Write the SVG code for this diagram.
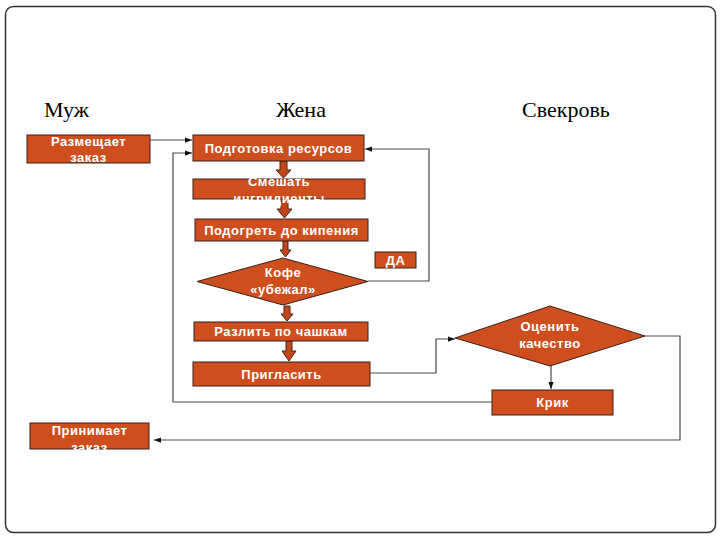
<svg xmlns="http://www.w3.org/2000/svg" width="720" height="540" viewBox="0 0 720 540">
<style>
.box{fill:#CF4E1E;stroke:#3a2018;stroke-width:1}
.fat{fill:#C2461A;stroke:#4a2414;stroke-width:1}
.t{font-family:"Liberation Sans",Arial,sans-serif;font-weight:bold;font-size:13px;fill:#fff;text-anchor:middle;letter-spacing:0.5px}
.h{font-family:"Liberation Serif","Times New Roman",serif;font-size:22px;fill:#000}
.c{fill:none;stroke:#4a4a4a;stroke-width:1.2}
</style>
<defs>
<marker id="ah" viewBox="0 0 8 8" refX="8" refY="4" markerWidth="7" markerHeight="7" markerUnits="userSpaceOnUse" orient="auto">
<path d="M0,1 L8,4 L0,7 z" fill="#111"/>
</marker>
</defs>
<rect x="5.5" y="6.5" width="710" height="526" rx="8" fill="#fff" stroke="#333" stroke-width="1.5"/>
<text class="h" x="44" y="117">Муж</text>
<text class="h" x="276" y="117">Жена</text>
<text class="h" x="522" y="117">Свекровь</text>

<g id="connectors">
<path class="c" d="M150,140 L192,140" marker-end="url(#ah)"/>
<path class="c" d="M368,281 L429,281 L429,149 L365,149" marker-end="url(#ah)"/>
<path class="c" d="M370,373 L436,373 L436,339 L455,339" marker-end="url(#ah)"/>
<path class="c" d="M551,366 L551,389" marker-end="url(#ah)"/>
<path class="c" d="M492,402 L173,402 L173,153 L192,153" marker-end="url(#ah)"/>
<path class="c" d="M645,336 L680,336 L680,440 L154,440" marker-end="url(#ah)"/>
<polygon class="fat" points="280,161 287,161 287,170 291,170 283.5,178 276,170 280,170"/>
<polygon class="fat" points="281,199 288,199 288,209 292,209 284.5,218 277,209 281,209"/>
<polygon class="fat" points="283,241 288,241 288,250 291,250 285.5,257 280,250 283,250"/>
<polygon class="fat" points="284,306 290,306 290,314 293,314 287,321 281,314 284,314"/>
<polygon class="fat" points="286,341 292,341 292,351 296,351 289,361 282,351 286,351"/>
</g>

<g id="n-razmeshchaet">
<rect class="box" x="27" y="135" width="123" height="28"/>
<text class="t" x="88.5" y="146">Размещает</text>
<text class="t" x="88.5" y="162">заказ</text>
</g>
<g id="n-podgotovka">
<rect class="box" x="193" y="135" width="171" height="26"/>
<text class="t" x="278.5" y="153">Подготовка ресурсов</text>
</g>
<g id="n-smeshat">
<rect class="box" x="193" y="179" width="172" height="20"/>
<text class="t" x="279" y="186">Смешать</text>
<text class="t" x="279" y="203">ингридиенты</text>
</g>
<g id="n-podogret">
<rect class="box" x="195" y="219" width="173" height="22"/>
<text class="t" x="281.5" y="234.5">Подогреть до кипения</text>
</g>
<g id="n-kofe">
<polygon class="box" points="283,258 368,281.5 283,305 197,281.5"/>
<text class="t" x="283" y="277">Кофе</text>
<text class="t" x="283" y="294">«убежал»</text>
</g>
<g id="n-da">
<rect class="box" x="375" y="252" width="41" height="16"/>
<text class="t" x="395.5" y="264.5">ДА</text>
</g>
<g id="n-razlit">
<rect class="box" x="194" y="322" width="174" height="19"/>
<text class="t" x="281" y="336">Разлить по чашкам</text>
</g>
<g id="n-priglasit">
<rect class="box" x="193" y="362" width="177" height="24"/>
<text class="t" x="281.5" y="378.5">Пригласить</text>
</g>
<g id="n-otsenit">
<polygon class="box" points="550,306 645,336 550,366 455,338"/>
<text class="t" x="550" y="331">Оценить</text>
<text class="t" x="550" y="348">качество</text>
</g>
<g id="n-krik">
<rect class="box" x="492" y="390" width="121" height="25"/>
<text class="t" x="552.5" y="407">Крик</text>
</g>
<g id="n-prinimaet">
<rect class="box" x="30" y="423" width="119" height="26"/>
<text class="t" x="89.5" y="435">Принимает</text>
<text class="t" x="89.5" y="452">заказ</text>
</g>
</svg>
